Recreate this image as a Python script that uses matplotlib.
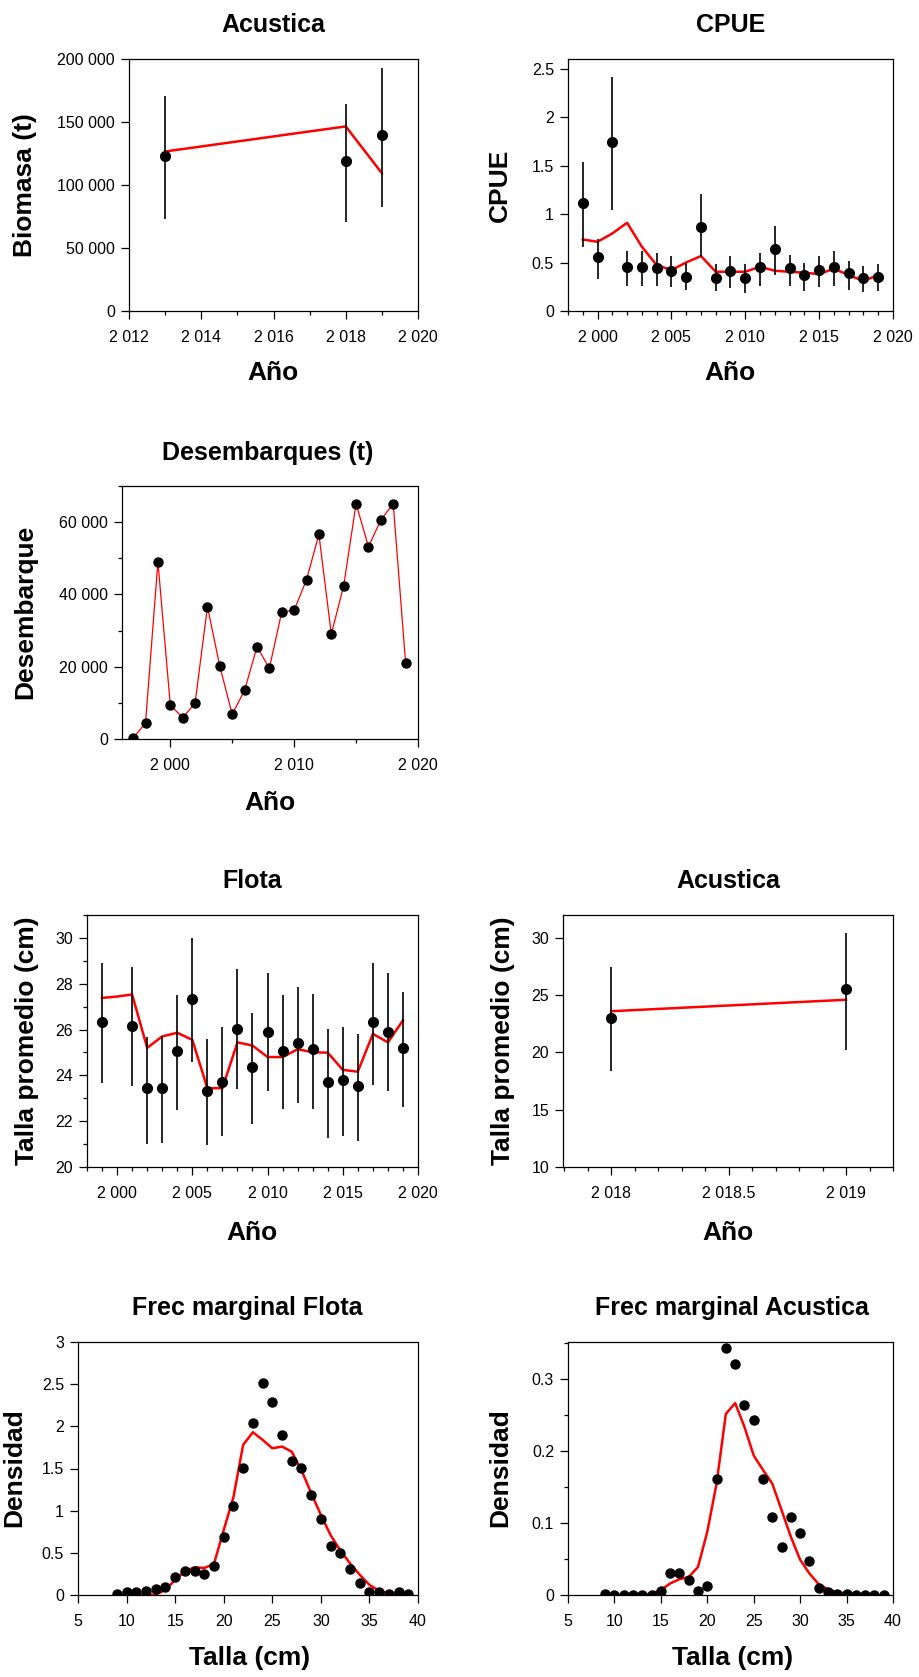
import matplotlib
matplotlib.use("Agg")
import matplotlib.pyplot as plt
from matplotlib.ticker import MultipleLocator, FuncFormatter

plt.rcParams['font.family'] = ['Liberation Sans', 'DejaVu Sans']

# biomasa acustica
acu_anio = [2013, 2018, 2019]
acu_bio = [123000, 119000, 139500]
acu_bio_lo = [73000, 71000, 82400]
acu_bio_hi = [171000, 164500, 192800]
acu_bio_pred = [126600, 146500, 109400]

# CPUE
cpue_anio = list(range(1999, 2020))
cpue_obs = [1.116, 0.553, 1.745, 0.457, 0.457, 0.44, 0.416, 0.354, 0.869, 0.343, 0.416,
            0.343, 0.457, 0.635, 0.44, 0.371, 0.422, 0.457, 0.388, 0.343, 0.354]
cpue_lo = [0.656, 0.326, 1.04, 0.261, 0.261, 0.26, 0.244, 0.216, 0.56, 0.21, 0.24,
           0.19, 0.26, 0.367, 0.26, 0.21, 0.25, 0.26, 0.22, 0.2, 0.21]
cpue_hi = [1.538, 0.742, 2.414, 0.618, 0.618, 0.594, 0.567, 0.491, 1.212, 0.48, 0.57,
           0.48, 0.6, 0.879, 0.58, 0.5, 0.57, 0.62, 0.52, 0.46, 0.49]
cpue_pred = [0.738, 0.714, 0.8, 0.91, 0.663, 0.474, 0.422, 0.501, 0.567, 0.405, 0.405,
             0.405, 0.457, 0.415, 0.405, 0.395, 0.381, 0.436, 0.371, 0.309, 0.371]

# desembarques
des_anio = list(range(1997, 2020))
des_obs = [200, 4500, 49000, 9400, 5900, 9900, 36600, 20100, 6800, 13500, 25500, 19600,
           35200, 35600, 44100, 56600, 29000, 42400, 65100, 53200, 60600, 65100, 21000]

# talla promedio flota
flota_anio = [1999] + list(range(2001, 2020))
flota_obs = [26.31, 26.16, 23.43, 23.43, 25.06, 27.35, 23.31, 23.7, 26.03, 24.36,
             25.89, 25.06, 25.41, 25.16, 23.7, 23.78, 23.52, 26.31, 25.89, 25.19]
flota_lo = [23.66, 23.52, 20.99, 21.06, 22.47, 24.58, 20.94, 21.35, 23.39, 21.86,
            23.31, 22.54, 22.8, 22.55, 21.28, 21.34, 21.13, 23.59, 23.31, 22.62]
flota_hi = [28.9, 28.75, 25.67, 25.74, 27.49, 30.0, 25.6, 26.1, 28.63, 26.73,
            28.46, 27.49, 27.85, 27.56, 26.02, 26.1, 25.81, 28.9, 28.46, 27.63]
flota_pred_anio = list(range(1999, 2020))
flota_pred = [27.38, 27.44, 27.53, 25.2, 25.7, 25.86, 25.55, 23.44, 23.44, 25.44, 25.3,
              24.8, 24.8, 25.14, 25.01, 24.99, 24.24, 24.16, 25.81, 25.44, 26.4]

# talla promedio acustica
tac_anio = [2018, 2019]
tac_obs = [23.05, 25.55]
tac_lo = [18.34, 20.23]
tac_hi = [27.5, 30.44]
tac_pred = [23.6, 24.6]

# frecuencias marginales
tallas = list(range(9, 40))
frec_flota_obs = [0.015, 0.04, 0.04, 0.05, 0.07, 0.1, 0.21, 0.28, 0.28, 0.25, 0.34, 0.69,
                  1.05, 1.51, 2.04, 2.51, 2.29, 1.9, 1.59, 1.51, 1.18, 0.9, 0.58, 0.5,
                  0.31, 0.14, 0.04, 0.03, 0.01, 0.03, 0.015]
frec_flota_pred = [0.0, 0.0, 0.0, 0.0, 0.005, 0.06, 0.18, 0.28, 0.33, 0.32, 0.37, 0.77,
                   1.16, 1.78, 1.93, 1.84, 1.74, 1.76, 1.70, 1.48, 1.21, 0.95, 0.71, 0.53,
                   0.375, 0.24, 0.12, 0.05, 0.02, 0.01, 0.0]
frec_acu_obs = [0.001, 0, 0, 0, 0, 0, 0.005, 0.031, 0.031, 0.021, 0.005, 0.0125, 0.161,
                0.3435, 0.321, 0.265, 0.244, 0.161, 0.108, 0.067, 0.108, 0.0857, 0.0477,
                0.0093, 0.0046, 0.001, 0.001, 0, 0, 0, 0]
frec_acu_pred = [0, 0, 0, 0, 0, 0.002, 0.007, 0.016, 0.022, 0.025, 0.039, 0.088, 0.155,
                 0.252, 0.267, 0.234, 0.194, 0.174, 0.155, 0.118, 0.081, 0.049, 0.03,
                 0.015, 0.008, 0.004, 0.002, 0, 0, 0, 0]

W, H = 919, 1677
fig = plt.figure(figsize=(W / 100, H / 100), dpi=100)


def miles(v, pos):
    if abs(v - round(v)) < 1e-9:
        return f"{int(round(v)):,}".replace(',', ' ')
    return f"{v:,.10g}".replace(',', ' ')


def caja(l, t, r, b):
    ax = fig.add_axes([l / W, 1 - b / H, (r - l) / W, (b - t) / H])
    for s in ax.spines.values():
        s.set_linewidth(0.9)
    ax.tick_params(which='both', direction='out', top=False, right=False, labelsize=11.5)
    ax.tick_params(which='major', length=6, width=0.9)
    ax.tick_params(which='minor', length=3, width=0.9)
    ax.tick_params(axis='x', which='both', pad=8)
    ax.tick_params(axis='y', which='both', pad=4)
    ax.xaxis.set_major_formatter(FuncFormatter(miles))
    ax.yaxis.set_major_formatter(FuncFormatter(miles))
    return ax


def texto(x, y, s, rot=0, size=19):
    fig.text(x / W, 1 - y / H, s, ha='center', va='center', rotation=rot,
             fontsize=size, fontweight='bold')


def con_error(ax, x, y, lo, hi, pred_x, pred, lw=1.8):
    ax.plot(pred_x, pred, color='red', lw=lw, zorder=2)
    ax.vlines(x, lo, hi, color='black', lw=1.2, zorder=3)
    ax.plot(x, y, 'o', color='black', ms=7, zorder=4)


# Acustica biomasa
ax = caja(129, 59, 418, 311)
con_error(ax, acu_anio, acu_bio, acu_bio_lo, acu_bio_hi, acu_anio, acu_bio_pred)
ax.set_xlim(2012, 2020)
ax.set_ylim(0, 200000)
ax.xaxis.set_major_locator(MultipleLocator(2))
ax.xaxis.set_minor_locator(MultipleLocator(1))
ax.yaxis.set_major_locator(MultipleLocator(50000))
texto(273, 25, 'Acustica', size=18)
texto(25, 185, 'Biomasa (t)', rot=90)
texto(273, 373, 'Año')

# CPUE
ax = caja(568, 59, 893, 311)
con_error(ax, cpue_anio, cpue_obs, cpue_lo, cpue_hi, cpue_anio, cpue_pred)
ax.set_xlim(1998, 2020)
ax.set_ylim(0, 2.6)
ax.xaxis.set_major_locator(MultipleLocator(5))
ax.xaxis.set_minor_locator(MultipleLocator(1))
ax.yaxis.set_major_locator(MultipleLocator(0.5))
texto(731, 25, 'CPUE', size=18)
texto(500, 185, 'CPUE', rot=90)
texto(730, 373, 'Año')

# Desembarques
ax = caja(122, 486, 418, 739)
ax.plot(des_anio, des_obs, color='red', lw=0.9, zorder=2)
ax.plot(des_anio, des_obs, 'o', color='black', ms=6.5, zorder=3)
ax.set_xlim(1996.1, 2020)
ax.set_ylim(0, 70000)
ax.xaxis.set_major_locator(MultipleLocator(10))
ax.xaxis.set_minor_locator(MultipleLocator(5))
ax.yaxis.set_major_locator(MultipleLocator(20000))
ax.yaxis.set_minor_locator(MultipleLocator(10000))
texto(268, 453, 'Desembarques (t)', size=18)
texto(25, 612, 'Desembarque', rot=90)
texto(270, 803, 'Año')

# Flota talla
ax = caja(87, 915, 418, 1167)
con_error(ax, flota_anio, flota_obs, flota_lo, flota_hi, flota_pred_anio, flota_pred)
ax.set_xlim(1998, 2020)
ax.set_ylim(20, 31)
ax.xaxis.set_major_locator(MultipleLocator(5))
ax.xaxis.set_minor_locator(MultipleLocator(1))
ax.yaxis.set_major_locator(MultipleLocator(2))
ax.yaxis.set_minor_locator(MultipleLocator(1))
texto(252, 881, 'Flota', size=18)
texto(27, 1041, 'Talla promedio (cm)', rot=90)
texto(252, 1233, 'Año')

# Acustica talla
ax = caja(563, 915, 893, 1167)
con_error(ax, tac_anio, tac_obs, tac_lo, tac_hi, tac_anio, tac_pred)
ax.set_xlim(2017.795, 2019.2)
ax.set_ylim(10, 32)
ax.xaxis.set_major_locator(MultipleLocator(0.5))
ax.xaxis.set_minor_locator(MultipleLocator(0.1))
ax.yaxis.set_major_locator(MultipleLocator(5))
texto(728, 881, 'Acustica', size=18)
texto(503, 1041, 'Talla promedio (cm)', rot=90)
texto(728, 1233, 'Año')

# Frec marginal flota
ax = caja(78, 1342, 418, 1595)
ax.plot(tallas, frec_flota_pred, color='red', lw=1.8, zorder=2)
ax.plot(tallas, frec_flota_obs, 'o', color='black', ms=6.5, zorder=3)
ax.set_xlim(5, 40)
ax.set_ylim(0, 3)
ax.xaxis.set_major_locator(MultipleLocator(5))
ax.yaxis.set_major_locator(MultipleLocator(0.5))
texto(247, 1308, 'Frec marginal Flota', size=18)
texto(14, 1468, 'Densidad', rot=90)
texto(250, 1658, 'Talla (cm)')

# Frec marginal acustica
ax = caja(568, 1342, 893, 1595)
ax.plot(tallas, frec_acu_pred, color='red', lw=1.8, zorder=2)
ax.plot(tallas, frec_acu_obs, 'o', color='black', ms=6.5, zorder=3)
ax.set_xlim(5, 40)
ax.set_ylim(0, 0.352)
ax.xaxis.set_major_locator(MultipleLocator(5))
ax.yaxis.set_major_locator(MultipleLocator(0.1))
ax.yaxis.set_minor_locator(MultipleLocator(0.05))
texto(732, 1308, 'Frec marginal Acustica', size=18)
texto(500, 1468, 'Densidad', rot=90)
texto(733, 1658, 'Talla (cm)')

fig.savefig('out.png', dpi=100)
